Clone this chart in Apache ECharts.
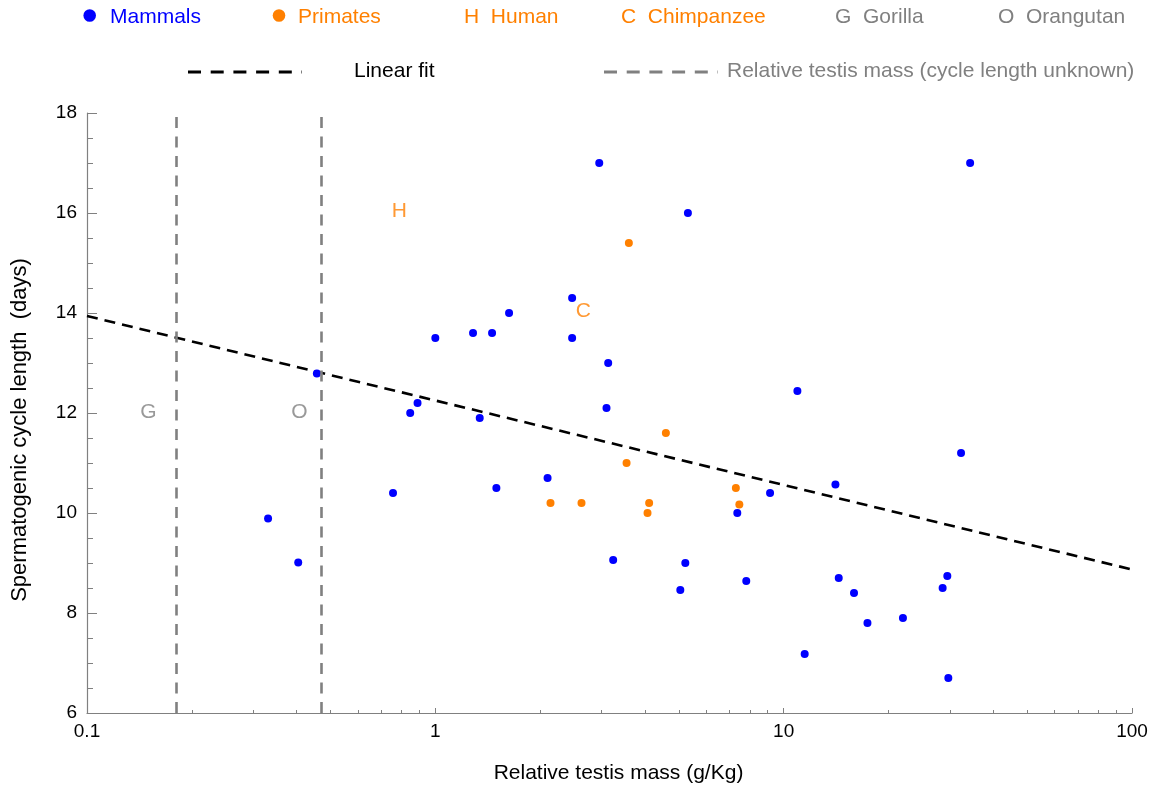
<!DOCTYPE html>
<html>
<head>
<meta charset="utf-8">
<script src="https://cdn.jsdelivr.net/npm/echarts@6/dist/echarts.min.js"></script>
<style>
html,body{margin:0;padding:0;background:#fff;}
#chart{width:1159px;height:793px;}
</style>
</head>
<body>
<div id="chart"></div>
<script>
// ---- data ----
const mammals = [
  [0.331, 9.89], [0.404, 9.01], [0.457, 12.79], [0.756, 10.40], [0.847, 12.00],
  [0.889, 12.20], [1.00, 13.50], [1.283, 13.60], [1.455, 13.60], [1.628, 14.00],
  [1.341, 11.90], [1.497, 10.50], [2.10, 10.70], [2.47, 14.30], [2.47, 13.50],
  [2.955, 17.00], [3.10, 12.10], [3.135, 13.00], [3.24, 9.06], [5.05, 8.46],
  [5.22, 9.00], [5.31, 16.00], [7.36, 10.00], [7.81, 8.64], [9.14, 10.40],
  [10.95, 12.44], [11.49, 7.18], [14.08, 10.57], [14.39, 8.70], [15.92, 8.40],
  [17.4, 7.80], [22.0, 7.90], [28.6, 8.50], [29.5, 8.74], [29.7, 6.70],
  [32.3, 11.20], [34.3, 17.00]
];
const primates = [
  [3.594, 15.40], [4.59, 11.60], [3.54, 11.00], [2.141, 10.20], [2.628, 10.20],
  [4.11, 10.20], [4.066, 10.00], [7.29, 10.50], [7.46, 10.17]
];
const fitLine = [[0.1, 13.94], [100, 8.87]];
const unknownMass = [0.179, 0.467];          // gorilla, orangutan relative testis mass
const annotations = [
  { name: 'H', value: [0.788, 16.04], group: 'primate' },
  { name: 'C', value: [2.66, 14.04], group: 'primate' },
  { name: 'G', value: [0.15, 12.02], group: 'ape' },
  { name: 'O', value: [0.407, 12.02], group: 'ape' }
];
const xMajorTicks = [0.1, 1, 10, 100];
const xMinorTicks = [0.2,0.3,0.4,0.5,0.6,0.7,0.8,0.9,2,3,4,5,6,7,8,9,20,30,40,50,60,70,80,90];

// ---- styles ----
const BLUE = '#0000ff';
const ORANGE = '#ff8000';
const GRAY = '#808080';
const FONT = '"Liberation Sans", Arial, Helvetica, sans-serif';

const chart = echarts.init(document.getElementById('chart'), null, { renderer: 'canvas' });

function legendText(x, top, text, color) {
  return { type: 'text', left: x, top: top, style: { text: text, fill: color, font: '21px ' + FONT, textVerticalAlign: 'top' } };
}

const option = {
  backgroundColor: '#ffffff',
  animation: false,
  grid: { left: 87, right: 27, top: 113, bottom: 80 },
  xAxis: [
    {
      type: 'log', logBase: 10, min: 0.1, max: 100,
      name: 'Relative testis mass (g/Kg)', nameLocation: 'middle', nameGap: 50,
      nameTextStyle: { color: '#000', fontSize: 21, fontFamily: FONT, padding: [0, 0, 0, 18] },
      axisLine: { show: true, lineStyle: { color: GRAY, width: 1.2 } },
      axisTick: { show: true, inside: true, length: 5, lineStyle: { color: GRAY }, customValues: xMajorTicks },
      axisLabel: { color: '#000', fontSize: 19, fontFamily: FONT, margin: 9, customValues: xMajorTicks,
        formatter: v => String(+(+v).toPrecision(3)) },
      splitLine: { show: false }, minorTick: { show: false }
    },
    {
      type: 'log', logBase: 10, min: 0.1, max: 100, position: 'bottom', gridIndex: 0,
      axisLine: { show: false },
      axisTick: { show: true, inside: true, length: 3, lineStyle: { color: GRAY }, customValues: xMinorTicks },
      axisLabel: { show: false },
      splitLine: { show: false }
    }
  ],
  yAxis: {
    type: 'value', min: 6, max: 18, interval: 2,
    name: 'Spermatogenic cycle length  (days)', nameLocation: 'middle', nameGap: 56,
    nameTextStyle: { color: '#000', fontSize: 22, fontFamily: FONT, padding: [0, 34, 0, 0] },
    axisLine: { show: true, lineStyle: { color: GRAY, width: 1.2 } },
    axisTick: { show: true, inside: true, length: 10, lineStyle: { color: GRAY } },
    minorTick: { show: true, splitNumber: 4, length: 6, lineStyle: { color: GRAY } },
    axisLabel: { color: '#000', fontSize: 19, fontFamily: FONT, margin: 10 },
    splitLine: { show: false }
  },
  graphic: [
    { type: 'circle', shape: { cx: 89.7, cy: 15.5, r: 6.3 }, style: { fill: BLUE } },
    legendText(110, 7, 'Mammals', BLUE),
    { type: 'circle', shape: { cx: 279, cy: 15.5, r: 6.3 }, style: { fill: ORANGE } },
    legendText(298, 7, 'Primates', ORANGE),
    legendText(464, 7, 'H  Human', ORANGE),
    legendText(621, 7, 'C  Chimpanzee', ORANGE),
    legendText(835, 7, 'G  Gorilla', GRAY),
    legendText(998, 7, 'O  Orangutan', GRAY),
    { type: 'line', shape: { x1: 188, y1: 72, x2: 302, y2: 72 }, style: { stroke: '#000', lineWidth: 3, lineDash: [13, 9.7] } },
    legendText(354, 61, 'Linear fit', '#000'),
    { type: 'line', shape: { x1: 604, y1: 72, x2: 718, y2: 72 }, style: { stroke: GRAY, lineWidth: 3, lineDash: [13, 9.7] } },
    legendText(727, 61, 'Relative testis mass (cycle length unknown)', GRAY)
  ],
  series: [
    {
      name: 'Relative testis mass (cycle length unknown)', type: 'line', data: [], xAxisIndex: 0,
      markLine: {
        silent: true, symbol: 'none', label: { show: false },
        lineStyle: { color: GRAY, width: 2.6, type: [11, 8.5] },
        data: unknownMass.map(v => ({ xAxis: v }))
      }
    },
    {
      name: 'Linear fit', type: 'line', xAxisIndex: 0, data: fitLine, symbol: 'none',
      lineStyle: { color: '#000', width: 2.6, type: [11, 7] }, z: 3
    },
    {
      name: 'Mammals', type: 'scatter', xAxisIndex: 0, data: mammals, symbolSize: 8,
      itemStyle: { color: BLUE, opacity: 1 }, z: 4
    },
    {
      name: 'Primates', type: 'scatter', xAxisIndex: 0, data: primates, symbolSize: 8,
      itemStyle: { color: ORANGE, opacity: 1 }, z: 4
    },
    {
      name: 'Annotations', type: 'scatter', xAxisIndex: 0, symbolSize: 0,
      data: annotations.map(a => ({
        name: a.name, value: a.value,
        label: { color: a.group === 'primate' ? ORANGE : GRAY }
      })),
      label: { show: true, position: 'inside', formatter: p => p.name, fontSize: 21, fontFamily: FONT }
    }
  ]
};
chart.setOption(option);
</script>
</body>
</html>
